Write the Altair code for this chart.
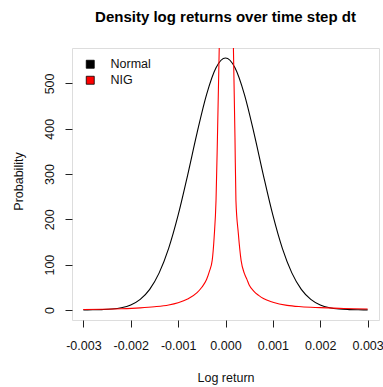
import altair as alt
import pandas as pd

# Normal density sampled on a 0.0002 grid
normal_x = [-0.0030, -0.0028, -0.0026, -0.0024, -0.0022, -0.0020, -0.0018, -0.0016,
            -0.0014, -0.0012, -0.0010, -0.0008, -0.0006, -0.0004, -0.0002, 0.0000,
            0.0002, 0.0004, 0.0006, 0.0008, 0.0010, 0.0012, 0.0014, 0.0016,
            0.0018, 0.0020, 0.0022, 0.0024, 0.0026, 0.0028, 0.0030]
normal_y = [0.08, 0.26, 0.75, 1.99, 4.89, 11.1, 23.4, 45.5,
            81.8, 135.9, 209.1, 297.3, 391.0, 475.4, 534.6, 556.0,
            534.6, 475.4, 391.0, 297.3, 209.1, 135.9, 81.8, 45.5,
            23.4, 11.1, 4.89, 1.99, 0.75, 0.26, 0.08]

# NIG density (peak runs off the top of the plot)
nig_x = [-0.0030, -0.0026, -0.0022, -0.0018, -0.0015, -0.0012, -0.0010, -0.0008,
         -0.0006, -0.0005, -0.0004, -0.00034, -0.00028, -0.00024, -0.00020, -0.00017,
         -0.00013, -0.00006, 0.00002, 0.00010, 0.000165, 0.00020, 0.00022, 0.00027,
         0.00033, 0.00040, 0.00045, 0.00050, 0.00060, 0.00070, 0.00080, 0.0010,
         0.0013, 0.0016, 0.0020, 0.0025, 0.0030]
nig_y = [1.0, 1.5, 2.5, 4.5, 7.0, 11.0, 16.0, 24.0,
         38.0, 50.0, 67.0, 85.0, 110.0, 160.0, 242.0, 380.0,
         590.0, 1000.0, 1400.0, 1000.0, 590.0, 380.0, 242.0, 170.0,
         109.0, 80.0, 68.0, 55.0, 41.0, 32.0, 25.0, 17.0,
         10.0, 7.0, 5.0, 3.0, 2.0]

series_names = ["Normal", "NIG"]
series_colors = ["#000000", "#FF0000"]

x_ticks = [-0.003, -0.002, -0.001, 0.0, 0.001, 0.002, 0.003]
y_ticks = [0, 100, 200, 300, 400, 500]

df = pd.concat([
    pd.DataFrame({"ret": normal_x, "dens": normal_y, "series": "Normal"}),
    pd.DataFrame({"ret": nig_x, "dens": nig_y, "series": "NIG"}),
])
legend_df = pd.DataFrame({"series": series_names, "ret": [None, None], "dens": [None, None]})

FONT = "Liberation Sans"
PLOT_W, PLOT_H = 307, 272

x_enc = alt.X(
    "ret:Q",
    scale=alt.Scale(domain=[-0.00324, 0.00324], nice=False, zero=False),
    axis=alt.Axis(
        title="Log return", values=x_ticks, grid=False, domain=False,
        tickSize=7, tickColor="#222", labelPadding=22, labelBaseline="alphabetic",
        labelFontSize=12.5, labelColor="#111", labelFont=FONT,
        titleFont=FONT, titleFontSize=12.5, titleFontWeight="normal", titleColor="#111",
        titleX=PLOT_W / 2, titleY=61, titleAlign="center", titleBaseline="alphabetic",
        labelExpr="replace(format(datum.value, '.3f'), '\u2212', '-')",
    ),
)
y_enc = alt.Y(
    "dens:Q",
    scale=alt.Scale(domain=[-22.24, 578.24], nice=False, zero=False),
    axis=alt.Axis(
        title="Probability", values=y_ticks, grid=False, domain=False,
        tickSize=7, tickColor="#222", labelAngle=270, labelAlign="center",
        labelBaseline="middle", labelPadding=16, labelFontSize=12.5,
        labelColor="#111", labelFont=FONT,
        titleFont=FONT, titleFontSize=12.5, titleFontWeight="normal", titleColor="#111",
        titleAngle=270, titleX=-49.3, titleY=133, titleAlign="center",
        titleBaseline="alphabetic",
    ),
)

lines = alt.Chart(df).mark_line(clip=True, strokeWidth=1.1, interpolate="monotone").encode(
    x=x_enc,
    y=y_enc,
    stroke=alt.Stroke("series:N", scale=alt.Scale(domain=series_names, range=series_colors), legend=None),
    detail="series:N",
)

keys = alt.Chart(legend_df).mark_point(shape="square", filled=True, opacity=1).encode(
    x="ret:Q",
    y="dens:Q",
    color=alt.Color(
        "series:N",
        scale=alt.Scale(domain=series_names, range=series_colors),
        legend=alt.Legend(
            title=None, orient="none", legendX=12, legendY=10,
            symbolType="square", symbolSize=64, symbolStrokeColor="#000",
            symbolStrokeWidth=0.8, symbolOpacity=1, labelFontSize=12.5, labelFont=FONT,
            labelColor="#111", labelOffset=14, rowPadding=3, padding=0,
        ),
    ),
)

chart = alt.layer(lines, keys).resolve_scale(color="independent").properties(
    width=PLOT_W,
    height=PLOT_H,
    title=alt.TitleParams(
        "Density log returns over time step dt", font=FONT, fontSize=15,
        fontWeight="bold", color="#000", anchor="middle", frame="group",
        baseline="alphabetic", offset=11,
    ),
    autosize=alt.AutoSizeParams(type="none"),
    padding={"left": 72, "top": 48, "right": 4, "bottom": 67},
).configure_view(
    stroke="#333", strokeWidth=1
).configure(background="white")

chart.save("out.html", embed_options={"renderer": "svg", "actions": False})
